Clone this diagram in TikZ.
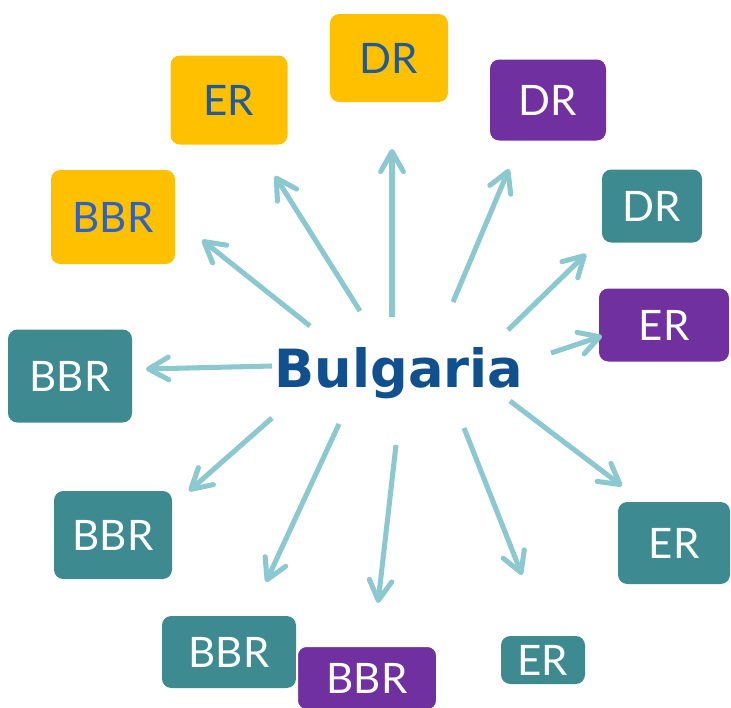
\documentclass[tikz,border=0pt]{standalone}
\usepackage{fontspec}
\usetikzlibrary{arrows.meta}

\newfontfamily\boxfont{Lato}
\newfontfamily\titlefont{DejaVu Sans}

\definecolor{gold}{HTML}{FFC000}
\definecolor{teal}{HTML}{3D8B91}
\definecolor{plum}{HTML}{7030A0}
\definecolor{ray}{HTML}{8CC8CF}
\definecolor{navy}{HTML}{11508F}
\definecolor{darkblue}{HTML}{1F5A9A}
\definecolor{midblue}{HTML}{2E62C4}

\begin{document}
\begin{tikzpicture}[
    x=0.75pt, y=-0.75pt,
    box/.style 2 args={rounded corners=7pt, inner sep=0pt,
        minimum width=#1*0.75pt, minimum height=#2*0.75pt,
        font=\boxfont\fontsize{31.5}{37}\selectfont},
    grn/.style={fill=teal, text=white},
    pur/.style={fill=plum, text=white},
    arr/.style={draw=ray, line width=3.8pt,
        -{Straight Barb[length=15pt, width=17pt, round]}}
]
\useasboundingbox (0,0) rectangle (731,707);

% Country in the middle
\node[font=\titlefont\bfseries\fontsize{39.5}{46}\selectfont, text=navy, anchor=base] (bg) at (399,387) {Bulgaria};

% Boxes round it
\node[box={118}{88}, fill=gold, text=darkblue] (dr1) at (389,58) {DR};
\node[box={117}{89}, fill=gold, text=darkblue] (er1) at (229,100) {ER};
\node[box={124}{94}, fill=gold, text=midblue] (bbr1) at (113,217) {BBR};
\node[box={116}{81}, pur] (dr2) at (548,100) {DR};
\node[box={100}{73}, grn] (dr3) at (652,206) {DR};
\node[box={130}{73}, pur] (er2) at (664,325) {ER};
\node[box={124}{93}, grn] (bbr2) at (70,376) {BBR};
\node[box={118}{88}, grn] (bbr3) at (113,535) {BBR};
\node[box={112}{82}, grn] (er3) at (674,543) {ER};
\node[box={134}{72}, grn] (bbr4) at (229,652) {BBR};
\node[box={140}{64}, pur, draw=white, line width=1.5pt] (bbr5) at (367,678) {BBR};
\node[box={84}{48}, grn] (er4) at (543,660) {ER};

% Rays
\foreach \n/\s/\t in {1/{392,317}/{392,149}, 2/{360,311}/{275,176},
    3/{310,326}/{202,240}, 4/{453,302}/{509,169}, 5/{508,330}/{586,254},
    6/{551,353}/{602,336}, 7/{272,366}/{146,369}, 8/{272,418}/{189,491},
    9/{339,424}/{266,582}, 10/{396,445}/{378,603}, 11/{464,428}/{522,575},
    12/{510,401}/{622,486}} {
    \coordinate (s\n) at (\s);
    \coordinate (t\n) at (\t);
    \draw[arr] (s\n) -- (t\n);
}

\end{tikzpicture}
\end{document}
